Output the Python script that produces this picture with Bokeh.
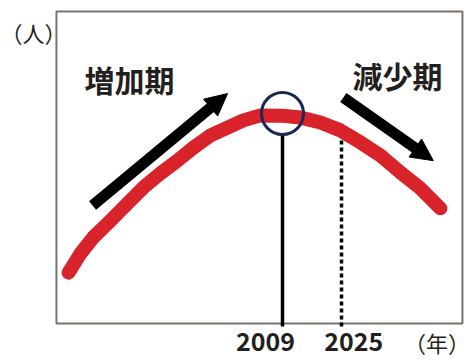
from bokeh.plotting import figure
from bokeh.models import Range1d, Arrow, NormalHead, Label
from bokeh.embed import file_html
from bokeh.resources import INLINE

# ---- data (index of population) ----
years = [1951.0, 1954.2, 1957.7, 1962.4, 1967.0, 1971.3, 1975.9, 1980.5, 1984.9, 1989.5,
         1994.1, 1998.4, 2003.0, 2009.0, 2013.9, 2019.3, 2024.7, 2030.2, 2035.6, 2041.0,
         2046.4, 2051.8]
population = [16.3, 22.4, 27.6, 33.0, 38.5, 43.6, 48.1, 52.2, 56.4, 60.3,
              62.8, 65.1, 66.7, 66.6, 66.0, 64.4, 61.9, 58.0, 53.8, 48.4,
              43.3, 36.9]

peak_year = 2009
peak_value = 67.3
proj_year = 2025
tick_labels = ["2009", "2025"]

# plotting box (data extent of the chart area)
box_x = (1947.7, 2057.8)
box_y = (0, 100)

# annotation arrows (start/end in data units)
up_arrow = dict(x_start=1957.5, y_start=37.8, x_end=1994.1, y_end=73.7)
down_arrow = dict(x_start=2025.5, y_start=72.4, x_end=2049.9, y_end=52.2)

FONT = "Noto Sans CJK JP"

p = figure(width=469, height=357, output_backend="svg", toolbar_location=None,
           x_range=Range1d(1932.53, 2059.71), y_range=Range1d(-10.90, 103.53),
           x_axis_location=None, y_axis_location=None,
           min_border=0)
p.grid.visible = False
p.outline_line_color = None
p.background_fill_color = "white"
p.border_fill_color = "white"

# chart box
p.quad(left=[box_x[0]], right=[box_x[1]], bottom=[box_y[0]], top=[box_y[1]],
       fill_color=None, line_color="#7a726c", line_width=2)

# red curve
p.line(years, population, line_color="#d9232b", line_width=14,
       line_cap="round", line_join="round")

# vertical lines (extend slightly below box as tick marks)
p.segment(x0=[peak_year], y0=[-1.0], x1=[peak_year], y1=[60.6],
          line_color="black", line_width=3.5)
p.segment(x0=[proj_year], y0=[-1.0], x1=[proj_year], y1=[59.6],
          line_color="black", line_width=3.5, line_dash="4 3")

# peak circle
p.scatter(x=[peak_year], y=[peak_value], marker="circle", size=42,
          fill_color=None, line_color="#1d2756", line_width=3)

# arrows
for a in (up_arrow, down_arrow):
    p.add_layout(Arrow(end=NormalHead(size=22, fill_color="black", line_color="black"),
                       line_color="black", line_width=11, line_cap="butt", **a))

def lab(text, x, y, size, bold=True):
    p.add_layout(Label(x=x, y=y, text=text, text_align="center", text_baseline="middle",
                       text_font=FONT, text_font_size=size,
                       text_font_style="bold" if bold else "normal",
                       text_color="#231f20"))

lab("増加期", 1967.5, 78.5, "30px")
lab("減少期", 2040.2, 79.8, "30px")
lab(tick_labels[0], 2004.4, -5.8, "25px")
lab(tick_labels[1], 2028.3, -5.8, "25px")
lab("（年）", 2050.9, -5.8, "22px", bold=False)
lab("（人）", 1941.5, 93.3, "22px", bold=False)

open("out.html", "w").write(file_html(p, INLINE))
